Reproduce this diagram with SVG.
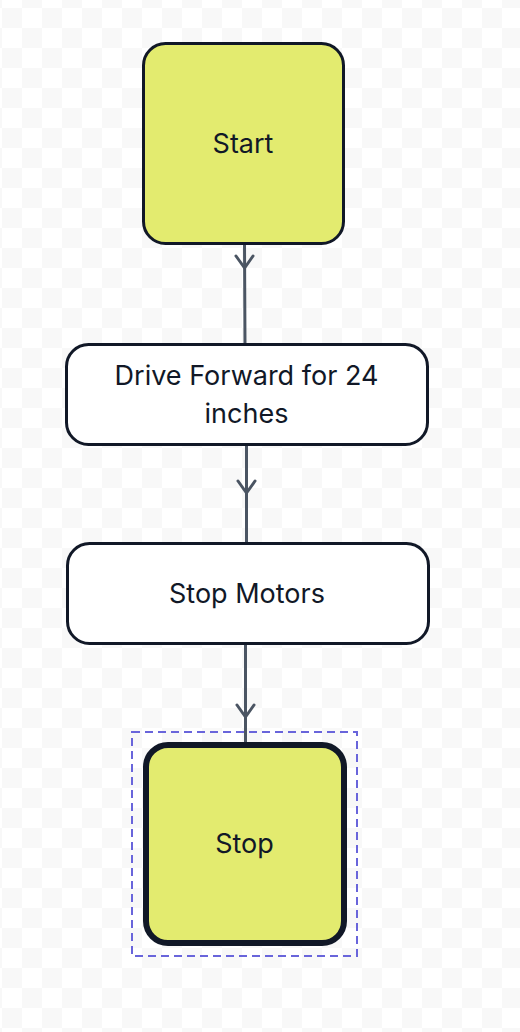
<svg xmlns="http://www.w3.org/2000/svg" width="520" height="1032" viewBox="0 0 520 1032">
<defs>
<pattern id="checker" x="2" y="8" width="40" height="40" patternUnits="userSpaceOnUse">
<rect width="40" height="40" fill="#ffffff"/>
<rect width="20" height="20" fill="#f8f8f8"/>
<rect x="20" y="20" width="20" height="20" fill="#f8f8f8"/>
</pattern>
</defs>
<style>
.term{fill:#e3eb6f;stroke:#111827;stroke-width:3}
.term.sel{stroke-width:6}
.proc{fill:#ffffff;stroke:#111827;stroke-width:3}
.lbl{font-family:Inter,"Liberation Sans",sans-serif;font-size:27px;fill:#111827;text-anchor:middle}
.edge{stroke:#4b5563;stroke-width:3;fill:none;stroke-linecap:round;stroke-linejoin:round}
.selbox{fill:none;stroke:#6965db;stroke-width:2;stroke-dasharray:8 5}
</style>
<rect width="520" height="1032" fill="url(#checker)"/>
<g id="connectors">
<path class="edge" d="M244.5 243 L245 344"/>
<path class="edge" d="M236 256 L244.6 268 L253 256"/>
<path class="edge" d="M246.5 445 L246.5 543"/>
<path class="edge" d="M238 481 L246.5 493 L255 481"/>
<path class="edge" d="M245.5 644 L245.5 744"/>
<path class="edge" d="M237 705 L245.5 717 L254 705"/>
</g>
<g id="start">
<rect class="term" x="143.5" y="43.5" width="200" height="200" rx="22"/>
<text class="lbl" x="243" y="153">Start</text>
</g>
<g id="drive">
<rect class="proc" x="66.5" y="344.5" width="361" height="100" rx="22"/>
<text class="lbl" x="246.5" y="385">Drive Forward for 24</text>
<text class="lbl" x="246.5" y="423">inches</text>
</g>
<g id="stopmotors">
<rect class="proc" x="67.5" y="543.5" width="361" height="100" rx="22"/>
<text class="lbl" x="247" y="603">Stop Motors</text>
</g>
<g id="stop">
<rect class="selbox" x="132" y="732" width="225" height="224"/>
<rect class="term sel" x="146" y="745" width="198" height="198" rx="22"/>
<text class="lbl" x="244.5" y="853">Stop</text>
</g>
</svg>
